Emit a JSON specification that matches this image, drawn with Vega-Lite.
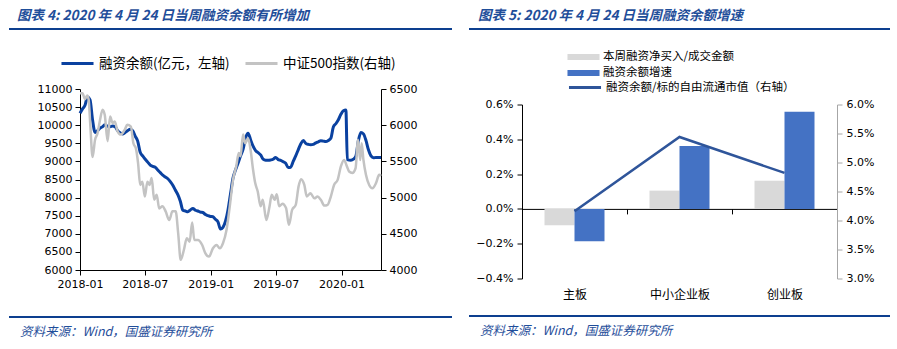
{
  "$schema": "https://vega.github.io/schema/vega-lite/v6.json",
  "padding": {"left": 8, "top": 8, "right": 0, "bottom": 0},
  "background": "white",
  "datasets": {
    "margin": [
      {"date": "2018-01-01", "value": 10330}, {"date": "2018-01-08", "value": 10450}, {"date": "2018-01-15", "value": 10550},
      {"date": "2018-01-22", "value": 10780}, {"date": "2018-01-29", "value": 10700}, {"date": "2018-02-05", "value": 10150},
      {"date": "2018-02-12", "value": 9800}, {"date": "2018-02-19", "value": 9850}, {"date": "2018-02-26", "value": 9920},
      {"date": "2018-03-05", "value": 9960}, {"date": "2018-03-12", "value": 10010}, {"date": "2018-03-19", "value": 9970},
      {"date": "2018-03-26", "value": 9960}, {"date": "2018-04-02", "value": 9980}, {"date": "2018-04-09", "value": 9960},
      {"date": "2018-04-16", "value": 9850}, {"date": "2018-04-23", "value": 9790}, {"date": "2018-04-30", "value": 9760},
      {"date": "2018-05-07", "value": 9800}, {"date": "2018-05-14", "value": 9850}, {"date": "2018-05-21", "value": 9890},
      {"date": "2018-05-28", "value": 9850}, {"date": "2018-06-04", "value": 9700}, {"date": "2018-06-11", "value": 9560},
      {"date": "2018-06-18", "value": 9250}, {"date": "2018-06-25", "value": 9150}, {"date": "2018-07-02", "value": 9060},
      {"date": "2018-07-09", "value": 8980}, {"date": "2018-07-16", "value": 8900}, {"date": "2018-07-23", "value": 8860},
      {"date": "2018-07-30", "value": 8840}, {"date": "2018-08-06", "value": 8760}, {"date": "2018-08-13", "value": 8690},
      {"date": "2018-08-20", "value": 8620}, {"date": "2018-08-27", "value": 8570}, {"date": "2018-09-03", "value": 8520},
      {"date": "2018-09-10", "value": 8440}, {"date": "2018-09-17", "value": 8340}, {"date": "2018-09-24", "value": 8210},
      {"date": "2018-10-01", "value": 8080}, {"date": "2018-10-08", "value": 7900}, {"date": "2018-10-15", "value": 7650},
      {"date": "2018-10-22", "value": 7630}, {"date": "2018-10-29", "value": 7610}, {"date": "2018-11-05", "value": 7660},
      {"date": "2018-11-12", "value": 7700}, {"date": "2018-11-19", "value": 7650}, {"date": "2018-11-26", "value": 7630},
      {"date": "2018-12-03", "value": 7600}, {"date": "2018-12-10", "value": 7590}, {"date": "2018-12-17", "value": 7530},
      {"date": "2018-12-24", "value": 7500}, {"date": "2018-12-31", "value": 7480}, {"date": "2019-01-07", "value": 7470},
      {"date": "2019-01-14", "value": 7400}, {"date": "2019-01-21", "value": 7330}, {"date": "2019-01-28", "value": 7130},
      {"date": "2019-02-04", "value": 7180}, {"date": "2019-02-11", "value": 7350}, {"date": "2019-02-18", "value": 7660},
      {"date": "2019-02-25", "value": 8100}, {"date": "2019-03-04", "value": 8540}, {"date": "2019-03-11", "value": 8760},
      {"date": "2019-03-18", "value": 8950}, {"date": "2019-03-25", "value": 9150}, {"date": "2019-04-01", "value": 9330},
      {"date": "2019-04-08", "value": 9650}, {"date": "2019-04-15", "value": 9780}, {"date": "2019-04-22", "value": 9600},
      {"date": "2019-04-29", "value": 9420}, {"date": "2019-05-06", "value": 9300}, {"date": "2019-05-13", "value": 9240},
      {"date": "2019-05-20", "value": 9180}, {"date": "2019-05-27", "value": 9060}, {"date": "2019-06-03", "value": 9030},
      {"date": "2019-06-10", "value": 9030}, {"date": "2019-06-17", "value": 9040}, {"date": "2019-06-24", "value": 9060},
      {"date": "2019-07-01", "value": 9110}, {"date": "2019-07-08", "value": 9050}, {"date": "2019-07-15", "value": 9030},
      {"date": "2019-07-22", "value": 8990}, {"date": "2019-07-29", "value": 8950}, {"date": "2019-08-05", "value": 8830},
      {"date": "2019-08-12", "value": 8840}, {"date": "2019-08-19", "value": 9000}, {"date": "2019-08-26", "value": 9150},
      {"date": "2019-09-02", "value": 9320}, {"date": "2019-09-09", "value": 9480}, {"date": "2019-09-16", "value": 9580},
      {"date": "2019-09-23", "value": 9500}, {"date": "2019-09-30", "value": 9470}, {"date": "2019-10-07", "value": 9460},
      {"date": "2019-10-14", "value": 9470}, {"date": "2019-10-21", "value": 9510}, {"date": "2019-10-28", "value": 9540},
      {"date": "2019-11-04", "value": 9570}, {"date": "2019-11-11", "value": 9560}, {"date": "2019-11-18", "value": 9550},
      {"date": "2019-11-25", "value": 9580}, {"date": "2019-12-02", "value": 9640}, {"date": "2019-12-09", "value": 9950},
      {"date": "2019-12-16", "value": 10040}, {"date": "2019-12-23", "value": 10150}, {"date": "2019-12-30", "value": 10300},
      {"date": "2020-01-06", "value": 10400}, {"date": "2020-01-13", "value": 10420}, {"date": "2020-01-17", "value": 9050},
      {"date": "2020-01-27", "value": 9030}, {"date": "2020-02-03", "value": 9060}, {"date": "2020-02-10", "value": 9150},
      {"date": "2020-02-17", "value": 9580}, {"date": "2020-02-24", "value": 9800}, {"date": "2020-03-02", "value": 9760},
      {"date": "2020-03-09", "value": 9580}, {"date": "2020-03-16", "value": 9320}, {"date": "2020-03-23", "value": 9150},
      {"date": "2020-03-30", "value": 9100}, {"date": "2020-04-06", "value": 9110}, {"date": "2020-04-13", "value": 9110},
      {"date": "2020-04-20", "value": 9110}
    ],
    "csi": [
      {"date": "2018-01-01", "value": 6440}, {"date": "2018-01-08", "value": 6440}, {"date": "2018-01-15", "value": 6360},
      {"date": "2018-01-21", "value": 6410}, {"date": "2018-01-25", "value": 6360}, {"date": "2018-01-30", "value": 5980},
      {"date": "2018-02-05", "value": 5560}, {"date": "2018-02-12", "value": 5800}, {"date": "2018-02-19", "value": 5890},
      {"date": "2018-02-26", "value": 6075}, {"date": "2018-03-05", "value": 6215}, {"date": "2018-03-11", "value": 6145},
      {"date": "2018-03-19", "value": 5780}, {"date": "2018-03-26", "value": 6120}, {"date": "2018-04-02", "value": 6030},
      {"date": "2018-04-08", "value": 6050}, {"date": "2018-04-16", "value": 5915}, {"date": "2018-04-25", "value": 5870},
      {"date": "2018-05-06", "value": 5940}, {"date": "2018-05-13", "value": 6005}, {"date": "2018-05-23", "value": 5980},
      {"date": "2018-05-30", "value": 5750}, {"date": "2018-06-06", "value": 5680}, {"date": "2018-06-12", "value": 5480},
      {"date": "2018-06-18", "value": 5175}, {"date": "2018-06-24", "value": 5220}, {"date": "2018-07-01", "value": 5015},
      {"date": "2018-07-08", "value": 5220}, {"date": "2018-07-14", "value": 5175}, {"date": "2018-07-20", "value": 5270},
      {"date": "2018-07-27", "value": 4970}, {"date": "2018-08-03", "value": 5040}, {"date": "2018-08-10", "value": 4850},
      {"date": "2018-08-19", "value": 4880}, {"date": "2018-08-28", "value": 4810}, {"date": "2018-09-07", "value": 4690},
      {"date": "2018-09-16", "value": 4810}, {"date": "2018-09-25", "value": 4810}, {"date": "2018-10-02", "value": 4505},
      {"date": "2018-10-09", "value": 4140}, {"date": "2018-10-18", "value": 4280}, {"date": "2018-10-26", "value": 4440},
      {"date": "2018-11-03", "value": 4390}, {"date": "2018-11-10", "value": 4655}, {"date": "2018-11-16", "value": 4415},
      {"date": "2018-11-26", "value": 4415}, {"date": "2018-12-08", "value": 4345}, {"date": "2018-12-17", "value": 4230},
      {"date": "2018-12-27", "value": 4185}, {"date": "2019-01-07", "value": 4300}, {"date": "2019-01-17", "value": 4345},
      {"date": "2019-01-26", "value": 4300}, {"date": "2019-02-04", "value": 4370}, {"date": "2019-02-14", "value": 4555},
      {"date": "2019-02-23", "value": 4880}, {"date": "2019-03-04", "value": 5245}, {"date": "2019-03-13", "value": 5430},
      {"date": "2019-03-20", "value": 5615}, {"date": "2019-03-25", "value": 5570}, {"date": "2019-04-01", "value": 5870},
      {"date": "2019-04-07", "value": 5750}, {"date": "2019-04-15", "value": 5820}, {"date": "2019-04-22", "value": 5660},
      {"date": "2019-04-29", "value": 5385}, {"date": "2019-05-05", "value": 5200}, {"date": "2019-05-12", "value": 5085},
      {"date": "2019-05-20", "value": 4880}, {"date": "2019-05-26", "value": 4970}, {"date": "2019-06-05", "value": 4690},
      {"date": "2019-06-14", "value": 4880}, {"date": "2019-06-20", "value": 5040}, {"date": "2019-06-28", "value": 4970},
      {"date": "2019-07-04", "value": 5045}, {"date": "2019-07-11", "value": 4880}, {"date": "2019-07-20", "value": 4915},
      {"date": "2019-07-30", "value": 4855}, {"date": "2019-08-07", "value": 4625}, {"date": "2019-08-16", "value": 4830},
      {"date": "2019-08-26", "value": 4900}, {"date": "2019-09-03", "value": 5155}, {"date": "2019-09-10", "value": 5255},
      {"date": "2019-09-19", "value": 5175}, {"date": "2019-09-26", "value": 5015}, {"date": "2019-10-06", "value": 5060},
      {"date": "2019-10-17", "value": 4990}, {"date": "2019-10-26", "value": 5015}, {"date": "2019-11-04", "value": 4970},
      {"date": "2019-11-14", "value": 4890}, {"date": "2019-11-23", "value": 4900}, {"date": "2019-12-02", "value": 5015},
      {"date": "2019-12-11", "value": 5175}, {"date": "2019-12-21", "value": 5245}, {"date": "2019-12-30", "value": 5430},
      {"date": "2020-01-08", "value": 5520}, {"date": "2020-01-16", "value": 5430}, {"date": "2020-01-22", "value": 5360},
      {"date": "2020-01-31", "value": 5340}, {"date": "2020-02-09", "value": 5405}, {"date": "2020-02-16", "value": 5800},
      {"date": "2020-02-22", "value": 5520}, {"date": "2020-02-26", "value": 5750}, {"date": "2020-03-02", "value": 5520},
      {"date": "2020-03-09", "value": 5315}, {"date": "2020-03-18", "value": 5175}, {"date": "2020-03-27", "value": 5130},
      {"date": "2020-04-06", "value": 5200}, {"date": "2020-04-15", "value": 5315}, {"date": "2020-04-20", "value": 5300}
    ],
    "bars": [
      {"cat": "主板", "metric": "本周融资净买入/成交金额", "value": -0.00094},
      {"cat": "主板", "metric": "融资余额增速", "value": -0.00186},
      {"cat": "中小企业板", "metric": "本周融资净买入/成交金额", "value": 0.00105},
      {"cat": "中小企业板", "metric": "融资余额增速", "value": 0.00361},
      {"cat": "创业板", "metric": "本周融资净买入/成交金额", "value": 0.00162},
      {"cat": "创业板", "metric": "融资余额增速", "value": 0.00558}
    ],
    "ratio": [
      {"cat": "主板", "value": 0.0416},
      {"cat": "中小企业板", "value": 0.0544},
      {"cat": "创业板", "value": 0.0482}
    ],
    "stub": [{"v": 1}]
  },
  "hconcat": [
    {
      "vconcat": [
        {
          "width": 443, "height": 13,
          "data": {"name": "stub"},
          "mark": {"type": "rule", "color": "#0d3f8f", "strokeWidth": 2},
          "encoding": {"y": {"field": "v", "type": "quantitative", "scale": {"domain": [0, 1]}, "axis": null}},
          "title": {"text": "图表 4: 2020 年 4 月 24 日当周融资余额有所增加", "anchor": "start", "dx": 9, "offset": 6, "fontSize": 13.5, "fontStyle": "italic", "fontWeight": "bold", "color": "#1f4e9a", "font": "Noto Sans CJK SC"}
        },
        {
          "width": 301, "height": 181,
          "layer": [
            {
              "data": {"name": "margin"},
              "mark": {"type": "line", "strokeWidth": 3, "interpolate": "monotone"},
              "encoding": {
                "x": {"field": "date", "type": "temporal",
                  "scale": {"domain": [{"year": 2018, "month": 1, "date": 1}, {"year": 2020, "month": 4, "date": 20}]},
                  "axis": {"values": [{"year": 2018, "month": 1, "date": 1}, {"year": 2018, "month": 7, "date": 1}, {"year": 2019, "month": 1, "date": 1}, {"year": 2019, "month": 7, "date": 1}, {"year": 2020, "month": 1, "date": 1}],
                    "format": "%Y-%m", "labelFlush": false, "labelOverlap": false, "title": null, "labelPadding": 3}},
                "y": {"field": "value", "type": "quantitative", "scale": {"domain": [6000, 11000]},
                  "axis": {"orient": "left", "values": [6000, 6500, 7000, 7500, 8000, 8500, 9000, 9500, 10000, 10500, 11000], "format": "d", "title": null, "labelPadding": 3}},
                "color": {"datum": "融资余额(亿元，左轴)",
                  "scale": {"domain": ["融资余额(亿元，左轴)", "中证500指数(右轴)"], "range": ["#0a41a0", "#c3c3c3"]},
                  "legend": {"orient": "none", "legendX": 61, "legendY": 27, "direction": "horizontal", "title": null,
                    "symbolType": "M-2.67,0L2.67,0", "symbolSize": 144, "symbolStrokeWidth": 3, "labelOffset": 14, "columnPadding": 9,
                    "labelFont": "Noto Sans CJK SC", "labelFontSize": 13.5, "labelColor": "#000", "padding": 0, "labelLimit": 300}}
              }
            },
            {
              "data": {"name": "csi"},
              "mark": {"type": "line", "strokeWidth": 2.5, "interpolate": "monotone"},
              "encoding": {
                "x": {"field": "date", "type": "temporal"},
                "y": {"field": "value", "type": "quantitative", "scale": {"domain": [4000, 6500]},
                  "axis": {"orient": "right", "values": [4000, 4500, 5000, 5500, 6000, 6500], "format": "d", "title": null, "labelPadding": 3}},
                "color": {"datum": "中证500指数(右轴)"}
              }
            }
          ],
          "resolve": {"scale": {"y": "independent"}}
        },
        {
          "width": 443, "height": 1,
          "data": {"name": "stub"},
          "mark": {"type": "rule", "color": "#0d3f8f", "strokeWidth": 2},
          "encoding": {"y": {"field": "v", "type": "quantitative", "scale": {"domain": [0, 1]}, "axis": null}},
          "title": {"text": "资料来源：Wind，国盛证券研究所", "orient": "bottom", "anchor": "start", "dx": 12, "offset": 8, "fontSize": 12.5, "fontStyle": "italic", "fontWeight": "normal", "color": "#1f4e9a", "font": "Noto Sans CJK SC"}
        }
      ],
      "spacing": 47, "bounds": "flush", "center": true
    },
    {
      "vconcat": [
        {
          "width": 421, "height": 38,
          "data": {"name": "stub"},
          "mark": {"type": "rule", "color": "#0d3f8f", "strokeWidth": 2},
          "encoding": {"y": {"field": "v", "type": "quantitative", "scale": {"domain": [0, 1]}, "axis": null}},
          "title": {"text": "图表 5: 2020 年 4 月 24 日当周融资余额增速", "anchor": "start", "dx": 10, "offset": 6, "fontSize": 13.5, "fontStyle": "italic", "fontWeight": "bold", "color": "#1f4e9a", "font": "Noto Sans CJK SC"}
        },
        {
          "width": 315, "height": 174,
          "layer": [
            {
              "data": {"name": "bars"},
              "mark": {"type": "bar"},
              "encoding": {
                "x": {"field": "cat", "type": "nominal", "sort": ["主板", "中小企业板", "创业板"],
                  "scale": {"paddingInner": 0, "paddingOuter": 0},
                  "axis": {"orient": "bottom", "offset": -69.6, "labelAngle": 0, "tickBand": "extent", "labelPadding": 76, "labelFont": "Noto Sans CJK SC", "labelFontSize": 12, "ticks": true, "tickSize": 5, "title": null}},
                "xOffset": {"field": "metric", "type": "nominal", "sort": ["本周融资净买入/成交金额", "融资余额增速"],
                  "scale": {"paddingInner": 0, "paddingOuter": 0.75}},
                "y": {"field": "value", "type": "quantitative", "scale": {"domain": [-0.004, 0.006]},
                  "axis": {"orient": "left", "values": [-0.004, -0.002, 0, 0.002, 0.004, 0.006], "format": ".1%", "title": null, "labelPadding": 4}},
                "fill": {"field": "metric", "type": "nominal",
                  "scale": {"domain": ["本周融资净买入/成交金额", "融资余额增速"], "range": ["#d9d9d9", "#4472c4"]},
                  "legend": {"orient": "none", "legendX": 568.5, "legendY": 22, "direction": "vertical", "title": null,
                    "symbolType": "M-2.67,-0.5L2.67,-0.5L2.67,0.5L-2.67,0.5Z", "symbolSize": 144, "symbolStrokeWidth": 0,
                    "labelOffset": 13.5, "rowPadding": 4, "labelFont": "Noto Sans CJK SC", "labelFontSize": 11.5, "labelColor": "#000", "padding": 0, "labelLimit": 300}}
              }
            },
            {
              "data": {"name": "ratio"},
              "mark": {"type": "line", "strokeWidth": 2.5},
              "encoding": {
                "x": {"field": "cat", "type": "nominal", "sort": ["主板", "中小企业板", "创业板"]},
                "y": {"field": "value", "type": "quantitative", "scale": {"domain": [0.03, 0.06]},
                  "axis": {"orient": "right", "values": [0.03, 0.035, 0.04, 0.045, 0.05, 0.055, 0.06], "format": ".1%", "title": null, "domainColor": "#a6a6a6", "tickColor": "#a6a6a6", "labelPadding": 4}},
                "stroke": {"datum": "融资余额/标的自由流通市值（右轴）",
                  "scale": {"domain": ["融资余额/标的自由流通市值（右轴）"], "range": ["#2f559a"]},
                  "legend": {"orient": "none", "legendX": 568.5, "legendY": 51, "title": null,
                    "symbolType": "M-2.67,0L2.67,0", "symbolSize": 144, "symbolStrokeWidth": 3,
                    "labelOffset": 13.5, "labelFont": "Noto Sans CJK SC", "labelFontSize": 11.5, "labelColor": "#000", "padding": 0, "labelLimit": 300}}
              }
            }
          ],
          "resolve": {"scale": {"y": "independent"}}
        },
        {
          "width": 421, "height": 1,
          "data": {"name": "stub"},
          "mark": {"type": "rule", "color": "#0d3f8f", "strokeWidth": 2},
          "encoding": {"y": {"field": "v", "type": "quantitative", "scale": {"domain": [0, 1]}, "axis": null}},
          "title": {"text": "资料来源：Wind，国盛证券研究所", "orient": "bottom", "anchor": "start", "dx": 12, "offset": 8, "fontSize": 12.5, "fontStyle": "italic", "fontWeight": "normal", "color": "#1f4e9a", "font": "Noto Sans CJK SC"}
        }
      ],
      "spacing": 37.5, "bounds": "flush", "center": true
    }
  ],
  "spacing": 15,
  "config": {
    "view": {"stroke": null},
    "font": "Noto Sans CJK SC",
    "axis": {"labelFont": "DejaVu Sans", "labelFontSize": 11, "labelColor": "#000", "domainColor": "#000", "tickColor": "#000", "grid": false, "tickSize": 5}
  }
}
